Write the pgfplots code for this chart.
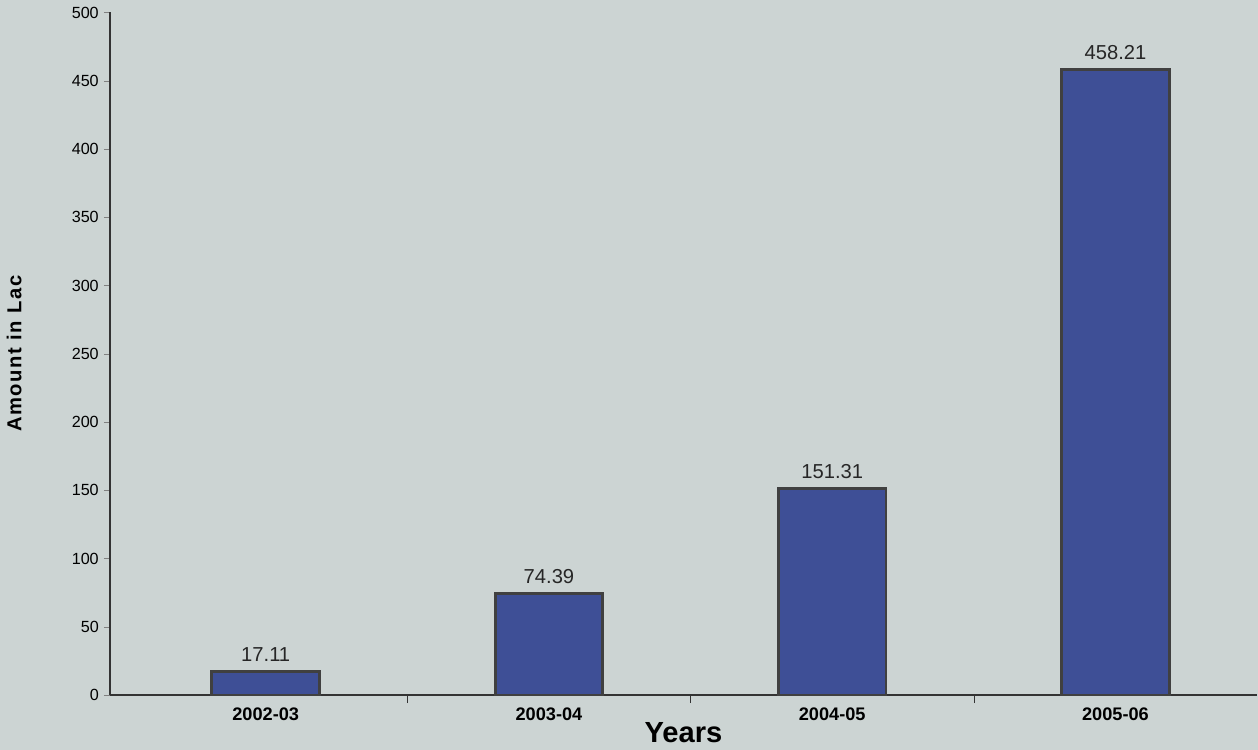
\documentclass[border=0pt]{standalone}
\usepackage{pgfplots}
\pgfplotsset{compat=1.18}
\usepackage{fontspec}
\setmainfont{Liberation Sans}
\usetikzlibrary{backgrounds}
\definecolor{barblue}{HTML}{3E4F96}
\definecolor{bgpaper}{HTML}{CCD4D3}
\begin{document}
\begin{tikzpicture}[show background rectangle, inner frame sep=0pt,
  background rectangle/.style={fill=bgpaper, draw=none}]
\begin{axis}[
    scale only axis,
    width=568pt, height=338pt,
    ybar, bar width=0.38,
    xmin=-0.55, xmax=3.5,
    ymin=0, ymax=500,
    ytick distance=50,
    xtick=data,
    xticklabels={2002-03,2003-04,2004-05,2005-06},
    x tick label style={font=\bfseries\small},
    y tick label style={font=\footnotesize, xshift=1pt},
    minor xtick={0.5,1.5,2.5},
    tick align=outside,
    major tick length=3pt,
    minor tick length=4pt,
    x tick style={draw=none},
    minor x tick style={draw=black!80},
    axis x line*=bottom, axis y line*=left,
    axis line style={black!80, line width=0.9pt, -},
    xlabel={\bfseries\Large Years},
    ylabel={\bfseries\addfontfeature{LetterSpace=8}Amount in Lac},
    ylabel style={font=\normalsize, yshift=18pt},
    xlabel style={yshift=6pt},
    nodes near coords,
    every node near coord/.append style={font=\normalsize, black!85, yshift=1pt},
    /pgf/number format/assume math mode=true,
    /pgf/number format/fixed, /pgf/number format/precision=2,
]
\addplot[fill=barblue, draw=black!75, line width=1.4pt]
  coordinates {(0,17.11) (1,74.39) (2,151.31) (3,458.21)};
\end{axis}
\end{tikzpicture}
\end{document}
